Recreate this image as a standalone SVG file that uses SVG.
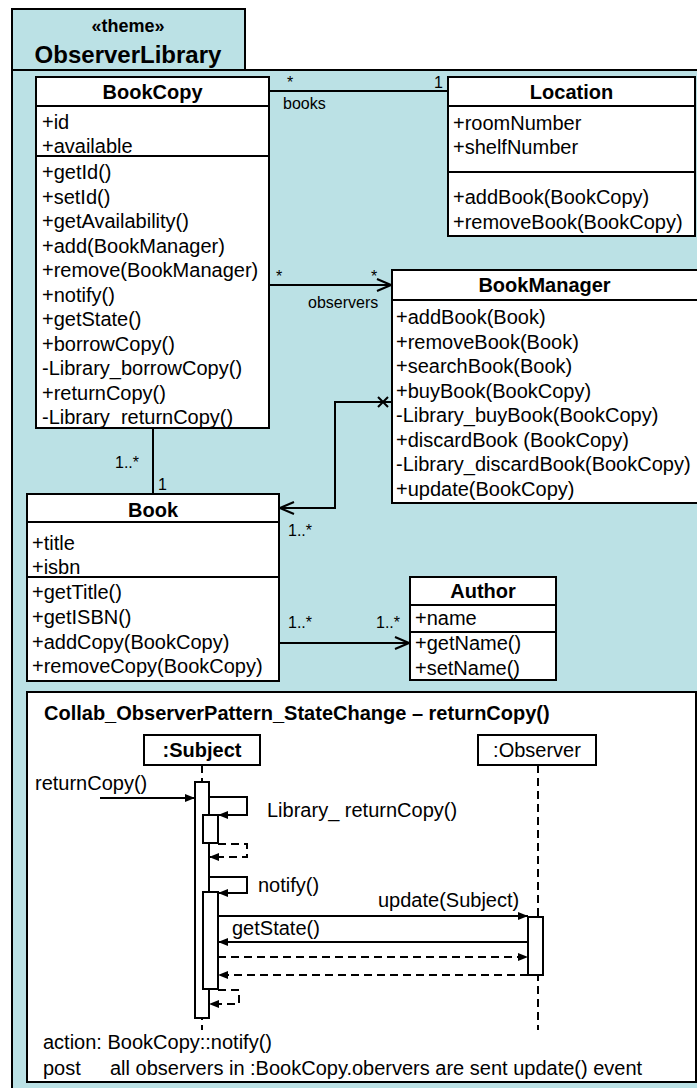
<svg xmlns="http://www.w3.org/2000/svg" width="697" height="1088" viewBox="0 0 697 1088">
<style>
text{font-family:"Liberation Sans",Arial,sans-serif;font-size:20px;fill:#000}
.b{font-weight:bold}
.m{text-anchor:middle}
.s{font-size:16px}
.box{fill:#fff;stroke:#000;stroke-width:2}
.pk{fill:#bbe1e5;stroke:#000;stroke-width:2}
.ln{fill:none;stroke:#000;stroke-width:2}
.dl{fill:none;stroke:#000;stroke-width:2;stroke-dasharray:8,5}
</style>
<defs>
<marker id="open" viewBox="0 0 16 14" refX="15" refY="7" markerWidth="16" markerHeight="14" markerUnits="userSpaceOnUse" orient="auto">
<path d="M1,1 L15,7 L1,13" fill="none" stroke="#000" stroke-width="2"/>
</marker>
<marker id="fill" viewBox="0 0 10 10" refX="10" refY="5" markerWidth="10" markerHeight="10" markerUnits="userSpaceOnUse" orient="auto">
<path d="M0,1 L10,5 L0,9 Z" fill="#000"/>
</marker>
</defs>
<g id="package">
<rect class="pk" x="12" y="9" width="233" height="61"/>
<rect class="pk" x="12" y="70" width="692" height="1022"/>
<text class="b m" x="128" y="32" style="font-size:18px">«theme»</text>
<text class="b m" x="128" y="63" style="font-size:24px">ObserverLibrary</text>
</g>
<g id="connectors">
<line class="ln" x1="269" y1="91" x2="448" y2="91"/>
<text class="s" x="287" y="88">*</text>
<text class="s" x="434" y="88">1</text>
<text class="s" x="283" y="109">books</text>
<line class="ln" x1="269" y1="285" x2="391" y2="285" marker-end="url(#open)"/>
<text class="s" x="276" y="282">*</text>
<text class="s" x="371" y="282">*</text>
<text class="s" x="308" y="308">observers</text>
<polyline class="ln" points="392,402 335,402 335,508 280,508" marker-end="url(#open)"/>
<path class="ln" d="M378,397 L388,407 M388,397 L378,407"/>
<text class="s" x="288" y="536">1..*</text>
<line class="ln" x1="153" y1="428" x2="153" y2="494"/>
<text class="s" x="115" y="468">1..*</text>
<text class="s" x="158" y="490">1</text>
<line class="ln" x1="279" y1="643" x2="409" y2="643" marker-end="url(#open)"/>
<text class="s" x="288" y="628">1..*</text>
<text class="s" x="376" y="628">1..*</text>
</g>
<g id="BookCopy">
<rect class="box" x="36" y="77" width="233" height="351"/>
<line class="ln" x1="36" y1="106" x2="269" y2="106"/>
<line class="ln" x1="36" y1="156" x2="269" y2="156"/>
<text class="b m" x="152.5" y="99">BookCopy</text>
<text x="42" y="129">+id</text>
<text x="42" y="153">+available</text>
<text x="42" y="179">+getId()</text>
<text x="42" y="203.5">+setId()</text>
<text x="42" y="228">+getAvailability()</text>
<text x="42" y="252.5">+add(BookManager)</text>
<text x="42" y="277">+remove(BookManager)</text>
<text x="42" y="301.5">+notify()</text>
<text x="42" y="326">+getState()</text>
<text x="42" y="350.5">+borrowCopy()</text>
<text x="42" y="375">-Library_borrowCopy()</text>
<text x="42" y="399.5">+returnCopy()</text>
<text x="42" y="424">-Library_returnCopy()</text>
</g>
<g id="Location">
<rect class="box" x="448" y="77" width="247" height="159"/>
<line class="ln" x1="448" y1="106" x2="695" y2="106"/>
<line class="ln" x1="448" y1="172" x2="695" y2="172"/>
<text class="b m" x="571.5" y="99">Location</text>
<text x="453" y="130">+roomNumber</text>
<text x="453" y="154">+shelfNumber</text>
<text x="453" y="204">+addBook(BookCopy)</text>
<text x="453" y="229">+removeBook(BookCopy)</text>
</g>
<g id="BookManager">
<rect class="box" x="392" y="270" width="306" height="233"/>
<line class="ln" x1="392" y1="300" x2="698" y2="300"/>
<text class="b m" x="544.5" y="292">BookManager</text>
<text x="396" y="324">+addBook(Book)</text>
<text x="396" y="348.5">+removeBook(Book)</text>
<text x="396" y="373">+searchBook(Book)</text>
<text x="396" y="397.5">+buyBook(BookCopy)</text>
<text x="396" y="422">-Library_buyBook(BookCopy)</text>
<text x="396" y="446.5">+discardBook (BookCopy)</text>
<text x="396" y="471">-Library_discardBook(BookCopy)</text>
<text x="396" y="495.5">+update(BookCopy)</text>
</g>
<g id="Book">
<rect class="box" x="27" y="494" width="252" height="187"/>
<line class="ln" x1="27" y1="522" x2="279" y2="522"/>
<line class="ln" x1="27" y1="577" x2="279" y2="577"/>
<text class="b m" x="153" y="517">Book</text>
<text x="32" y="550">+title</text>
<text x="32" y="574">+isbn</text>
<text x="32" y="599">+getTitle()</text>
<text x="32" y="624">+getISBN()</text>
<text x="32" y="648.5">+addCopy(BookCopy)</text>
<text x="32" y="673">+removeCopy(BookCopy)</text>
</g>
<g id="Author">
<rect class="box" x="410" y="577" width="146" height="103"/>
<line class="ln" x1="410" y1="605" x2="556" y2="605"/>
<line class="ln" x1="410" y1="632" x2="556" y2="632"/>
<text class="b m" x="483" y="598">Author</text>
<text x="415" y="625">+name</text>
<text x="415" y="650">+getName()</text>
<text x="415" y="675">+setName()</text>
</g>
<g id="Collab">
<rect class="box" x="27" y="692" width="669" height="390"/>
<text class="b" x="44" y="720">Collab_ObserverPattern_StateChange – returnCopy()</text>
<text x="43" y="1049">action: BookCopy::notify()</text>
<text x="43" y="1075">post</text>
<text x="110" y="1075">all observers in :BookCopy.obervers are sent update() event</text>
</g>
<g id="Subject">
<line class="dl" x1="202" y1="765" x2="202" y2="1030"/>
<rect class="box" x="144" y="735" width="116" height="30"/>
<text class="b m" x="202" y="757">:Subject</text>
<rect class="box" x="195" y="782" width="14" height="236"/>
<rect class="box" x="203" y="815" width="15" height="28"/>
<rect class="box" x="203" y="892" width="15" height="97"/>
</g>
<g id="Observer">
<line class="dl" x1="538" y1="765" x2="538" y2="1030"/>
<rect class="box" x="478" y="735" width="118" height="30"/>
<text class="m" x="537" y="757">:Observer</text>
<rect class="box" x="528" y="917" width="15" height="58"/>
</g>
<g id="messages">
<line class="ln" x1="100" y1="798" x2="195" y2="798" marker-end="url(#fill)"/>
<text x="35" y="790">returnCopy()</text>
<polyline class="ln" points="209,797 247,797 247,815 218,815" marker-end="url(#fill)"/>
<text x="267" y="817">Library_ returnCopy()</text>
<polyline class="dl" points="218,844 247,844 247,857 209,857" marker-end="url(#fill)"/>
<polyline class="ln" points="209,877 247,877 247,893 218,893" marker-end="url(#fill)"/>
<text x="258" y="892">notify()</text>
<line class="ln" x1="218" y1="916" x2="528" y2="916" marker-end="url(#fill)"/>
<text x="378" y="907">update(Subject)</text>
<line class="ln" x1="528" y1="942" x2="218" y2="942" marker-end="url(#fill)"/>
<text x="232" y="935">getState()</text>
<line class="dl" x1="218" y1="957" x2="528" y2="957" marker-end="url(#fill)"/>
<line class="dl" x1="528" y1="975" x2="218" y2="975" marker-end="url(#fill)"/>
<polyline class="dl" points="218,990 239,990 239,1004 209,1004" marker-end="url(#fill)"/>
</g>
</svg>
